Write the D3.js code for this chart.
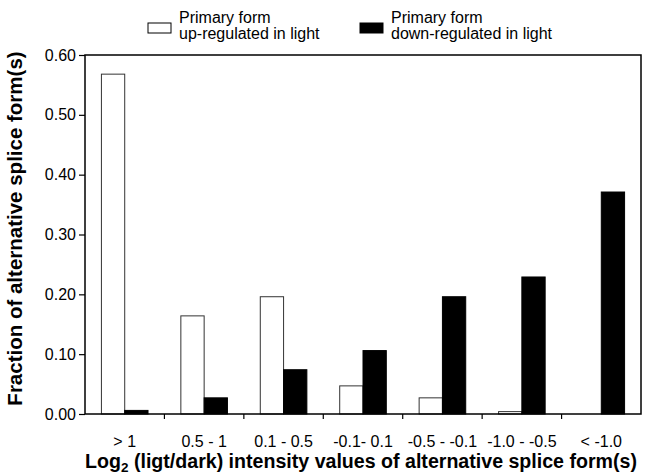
<!DOCTYPE html>
<html>
<head>
<meta charset="utf-8">
<script src="https://cdn.jsdelivr.net/npm/d3@7"></script>
<style>
  body { margin: 0; background: #fff; }
  svg { font-family: Arial, "Liberation Sans", sans-serif; }
</style>
</head>
<body>
<div id="chart"></div>
<script>
var categories = ["> 1", "0.5 - 1", "0.1 - 0.5", "-0.1- 0.1", "-0.5 - -0.1", "-1.0 - -0.5", "< -1.0"];
var series = ["up", "down"];
var upValues = [0.568, 0.164, 0.196, 0.047, 0.027, 0.004, 0];
var downValues = [0.006, 0.027, 0.074, 0.106, 0.196, 0.229, 0.371];
var yTicks = [0, 0.1, 0.2, 0.3, 0.4, 0.5, 0.6];
var legendLabels = [["Primary form", "up-regulated in light"], ["Primary form", "down-regulated in light"]];

var W = 646, H = 475;
var margin = {top: 55, right: 5, bottom: 61, left: 85};
var width = W - margin.left - margin.right,
    height = H - margin.top - margin.bottom;

var svg = d3.select("#chart").append("svg")
    .attr("width", W)
    .attr("height", H);

var g = svg.append("g")
    .attr("transform", "translate(" + margin.left + "," + margin.top + ")");

var x0 = d3.scaleBand()
    .domain(categories)
    .range([0, width])
    .padding(0);

var x1 = d3.scaleBand()
    .domain(series)
    .range([0, x0.bandwidth()])
    .paddingInner(0)
    .paddingOuter(0.705);

var y = d3.scaleLinear()
    .domain([0, 0.6])
    .range([height, 0]);

var data = categories.map(function(c, i) {
  return {cat: c, up: upValues[i], down: downValues[i]};
});

// bars
var grp = g.selectAll(".grp")
    .data(data)
  .enter().append("g")
    .attr("class", "grp")
    .attr("transform", function(d) { return "translate(" + x0(d.cat) + ",0)"; });

grp.selectAll("rect")
    .data(function(d) { return series.map(function(s) { return {s: s, v: d[s]}; }); })
  .enter().append("rect")
    .filter(function(d) { return d.v > 0; })
    .attr("x", function(d) { return x1(d.s); })
    .attr("width", x1.bandwidth())
    .attr("y", function(d) { return y(d.v); })
    .attr("height", function(d) { return height - y(d.v); })
    .attr("fill", function(d) { return d.s == "up" ? "#fff" : "#000"; })
    .attr("stroke", function(d) { return d.s == "up" ? "#333" : "#000"; })
    .attr("stroke-width", 1);

// frame
g.append("rect")
    .attr("x", 0).attr("y", 0)
    .attr("width", width).attr("height", height)
    .attr("fill", "none")
    .attr("stroke", "#000")
    .attr("stroke-width", 1.5);

// y axis
var yAxis = g.append("g")
    .call(d3.axisLeft(y).tickValues(yTicks).tickFormat(d3.format(".2f")).tickSize(6).tickPadding(3));
yAxis.select(".domain").remove();
yAxis.selectAll("text").attr("font-size", 16).attr("font-family", null).attr("fill", "#000");
yAxis.selectAll("line").attr("stroke", "#000").attr("stroke-width", 1.2);

// x axis: ticks on group boundaries
var xAxis = g.append("g")
    .attr("transform", "translate(0," + height + ")")
    .call(d3.axisBottom(x0).tickSize(0).tickPadding(22));
xAxis.select(".domain").remove();
xAxis.selectAll("text").attr("font-size", 16).attr("font-family", null).attr("fill", "#000");

xAxis.selectAll(".bound")
    .data(categories.slice(1))
  .enter().append("line")
    .attr("class", "bound")
    .attr("x1", function(d) { return x0(d); })
    .attr("x2", function(d) { return x0(d); })
    .attr("y1", 0).attr("y2", 5)
    .attr("stroke", "#000")
    .attr("stroke-width", 1.2);

// axis titles
svg.append("text")
    .attr("transform", "translate(21.5," + (margin.top + height / 2 - 6) + ") rotate(-90)")
    .attr("text-anchor", "middle")
    .attr("font-size", 20.5)
    .attr("font-weight", "bold")
    .text("Fraction of alternative splice form(s)");

var xt = svg.append("text")
    .attr("x", margin.left + width / 2 - 2)
    .attr("y", 468)
    .attr("text-anchor", "middle")
    .attr("font-size", 19.6)
    .attr("font-weight", "bold");
xt.append("tspan").text("Log");
xt.append("tspan").attr("font-size", 13.5).attr("dy", 3.5).text("2");
xt.append("tspan").attr("dy", -3.5).text(" (ligt/dark) intensity values of alternative splice form(s)");

// legend
var legX = [148, 360];
var leg = svg.selectAll(".leg")
    .data(series)
  .enter().append("g")
    .attr("class", "leg")
    .attr("transform", function(d, i) { return "translate(" + legX[i] + ",0)"; });

leg.append("rect")
    .attr("x", 0).attr("y", 23)
    .attr("width", 23).attr("height", 10)
    .attr("fill", function(d) { return d == "up" ? "#fff" : "#000"; })
    .attr("stroke", "#000")
    .attr("stroke-width", 1);

leg.each(function(d, i) {
  var t = d3.select(this);
  t.append("text")
      .attr("x", 31).attr("y", 23)
      .attr("font-size", 16)
      .attr("fill", "#000")
      .text(legendLabels[i][0]);
  t.append("text")
      .attr("x", 31).attr("y", 38.5)
      .attr("font-size", 16)
      .attr("fill", "#000")
      .text(legendLabels[i][1]);
});
</script>
</body>
</html>
